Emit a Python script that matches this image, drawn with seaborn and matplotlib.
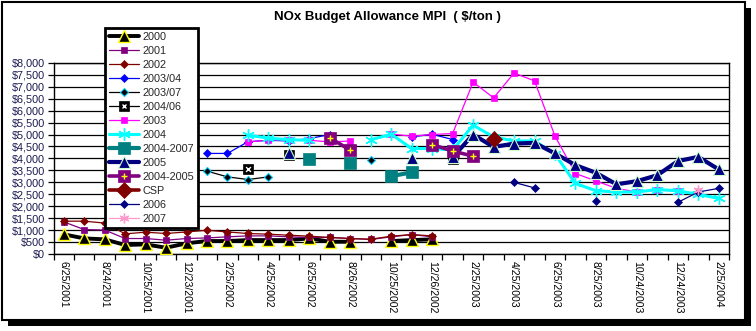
import numpy as np
import pandas as pd
import matplotlib
matplotlib.use("Agg")
import matplotlib.pyplot as plt
import seaborn as sns
from matplotlib.lines import Line2D
from matplotlib.patches import Rectangle
from matplotlib.legend_handler import HandlerTuple

N = np.nan

dates = ["6/25/2001", "7/25/2001", "8/24/2001", "9/25/2001", "10/25/2001", "11/26/2001",
         "12/23/2001", "1/25/2002", "2/25/2002", "3/25/2002", "4/25/2002", "5/24/2002",
         "6/25/2002", "7/25/2002", "8/26/2002", "9/25/2002", "10/25/2002", "11/25/2002",
         "12/26/2002", "1/24/2003", "2/25/2003", "3/25/2003", "4/25/2003", "5/23/2003",
         "6/25/2003", "7/25/2003", "8/25/2003", "9/25/2003", "10/24/2003", "11/25/2003",
         "12/24/2003", "1/23/2004", "2/25/2004"]

s2000 = [830, 660, 620, 385, 410, 270, 455, 550, 550, 590, 590, 590, 660, 520, 520, N,
         550, 590, 620] + [N] * 14
s2001 = [1350, 1030, 1010, 655, 655, 585, 655, 680, 725, 765, 765, 725, 700, 700, 655,
         615, 725, 820, 725] + [N] * 14
s2002 = [1380, 1380, 1300, 850, 920, 865, 930, 1000, 930, 865, 836, 795, 753, 700, 655,
         627, 753, 820, 765] + [N] * 14
s2003_04 = [N] * 7 + [4210, 4210, 4700, 4760, 4730, 4830, 5000, N, N, N, 4900, 5010,
                      4790] + [N] * 13
s2003_07 = [N] * 7 + [3470, 3230, 3120, 3230, N, N, N, N, 3940] + [N] * 17
s2004_06 = [N] * 9 + [3540, N, 4130] + [N] * 7 + [3970] + [N] * 13
s2003 = [N] * 9 + [4690, 4760, 4790, 4760, 4690, 4730, N, 5020, 4930, 5000, 5040, 7190,
                   6530, 7570, 7240, 4930, 3370, 3060, 2750, 2600, 2670, 2650] + [N] * 2
s2004 = [N] * 9 + [4970, 4850, 4780, 4760, N, N, 4780, 5010, 4415, 4415, 4350, 5390,
                   4900, 4730, 4730, 4180, 2955, 2650, 2600, 2600, 2700, 2650, 2500, 2330]
s2004_2007 = [N] * 12 + [3960, N, 3790, N, 3260, 3420] + [N] * 15
s2005 = [N] * 11 + [4210, N, N, N, N, N, 4030, N, 4050, 5000, 4480, 4620, 4650, 4210,
                    3720, 3400, 2920, 3050, 3300, 3890, 4065, 3540]
s2004_2005 = [N] * 13 + [4860, 4345, N, N, N, 4580, 4310, 4095] + [N] * 12
s_csp = [N] * 21 + [4830] + [N] * 11
s2006 = [N] * 22 + [3000, 2770, N, N, 2220, N, N, N, 2165, 2600, 2750]
s2007 = [N] * 31 + [2680, N]

y_ticks = list(range(0, 8001, 500))

sns.set_theme(style="white")
plt.rcParams["font.family"] = ["Liberation Sans", "DejaVu Sans"]

W, H = 756, 331
fig = plt.figure(figsize=(W / 100, H / 100), dpi=100, facecolor="white")

# chart frame with shadow
shadow = Rectangle((8 / W, 1 - 326 / H), (751 - 8) / W, (326 - 8) / H,
                   transform=fig.transFigure, facecolor="black", edgecolor="none", zorder=-2)
frame = Rectangle((2 / W, 1 - 320 / H), (745 - 2) / W, (320 - 2) / H,
                  transform=fig.transFigure, facecolor="white", edgecolor="black", lw=1.5, zorder=-1)
fig.patches.extend([shadow, frame])

x0, x1, yb, yt = 53.5, 729, 254.2, 62.7
ax = fig.add_axes([x0 / W, 1 - yb / H, (x1 - x0) / W, (yb - yt) / H])
ax.set_facecolor("white")

series = [
    ("2000", s2000, dict(color="black", lw=2.8, marker="^", ms=8, mfc="black", mec="#FFFF00", mew=1.0)),
    ("2001", s2001, dict(color="#800080", lw=0.9, marker="s", ms=4.5, mfc="#800080", mec="#800080", mew=0.5)),
    ("2002", s2002, dict(color="#800000", lw=0.9, marker="D", ms=4.0, mfc="#800000", mec="#800000", mew=0.5)),
    ("2003/04", s2003_04, dict(color="#0000FF", lw=0.9, marker="D", ms=4.0, mfc="#0000FF", mec="#0000FF", mew=0.5)),
    ("2003/07", s2003_07, dict(color="black", lw=0.9, marker="D", ms=4.0, mfc="black", mec="#00CCFF", mew=0.8)),
    ("2004/06", s2004_06, dict(color="black", lw=0.9, marker="s", ms=7, mfc="black", mec="black", mew=0.5)),
    ("2003", s2003, dict(color="#FF00FF", lw=0.9, marker="s", ms=5, mfc="#FF00FF", mec="#FF00FF", mew=0.5)),
    ("2004", s2004, dict(color="#00FFFF", lw=2.2, marker=(6, 2, 0), ms=9, mfc="#00FFFF", mec="#00FFFF", mew=1.0)),
    ("2004-2007", s2004_2007, dict(color="#008080", lw=3.0, marker="s", ms=8, mfc="#008080", mec="#008080", mew=0.5)),
    ("2005", s2005, dict(color="#000080", lw=3.0, marker="^", ms=8, mfc="#000080", mec="#CCFFCC", mew=0.8)),
    ("2004-2005", s2004_2005, dict(color="#800080", lw=2.6, marker="s", ms=8, mfc="#800080", mec="#800080", mew=0.5)),
    ("CSP", s_csp, dict(color="#800000", lw=2.6, marker="D", ms=8, mfc="#800000", mec="#800000", mew=0.5)),
    ("2006", s2006, dict(color="#000080", lw=0.9, marker="D", ms=4.5, mfc="#000080", mec="#000080", mew=0.5)),
    ("2007", s2007, dict(color="#FF99CC", lw=0.9, marker=(6, 2, 0), ms=7, mfc="#FF99CC", mec="#FF99CC", mew=1.0)),
]

overlays = {"2004/06": dict(marker="x", color="white", s=12, linewidth=1.0),
            "2004-2005": dict(marker="+", color="#FFFF00", s=20, linewidth=1.0)}

handles, labels = [], []
for i, (name, vals, st) in enumerate(series):
    y = pd.Series(vals, dtype=float)
    seg = y.isna().cumsum()
    df = pd.DataFrame({"x": np.arange(len(y)), "y": y, "seg": seg}).dropna()
    z = 3 + i
    sns.lineplot(data=df, x="x", y="y", units="seg", estimator=None, sort=False, ax=ax,
                 legend=False, zorder=z, **st)
    h = Line2D([], [], **st)
    if name in overlays:
        ov = overlays[name]
        sns.scatterplot(data=df, x="x", y="y", ax=ax, legend=False, zorder=z + 0.5,
                        marker=ov["marker"], color=ov["color"], s=ov["s"], linewidth=ov["linewidth"])
        oh = Line2D([], [], ls="none", marker=ov["marker"], color=ov["color"],
                    ms=np.sqrt(ov["s"]), mew=ov["linewidth"])
        h = (h, oh)
    handles.append(h)
    labels.append(name)

ax.set_xlim(-0.5, len(dates) - 0.5)
ax.set_ylim(0, 8000)
ax.set_xlabel("")
ax.set_ylabel("")

ax.set_yticks(y_ticks)
ax.set_yticklabels([f"${v:,}" for v in y_ticks], color="#1a1a50", fontsize=7.8)
ax.yaxis.grid(True, color="black", lw=0.9)
ax.xaxis.grid(False)
ax.set_axisbelow(True)

ax.set_xticks(np.arange(-0.5, len(dates), 1.0))
ax.set_xticklabels([])
centers = np.arange(0, len(dates), 2)
ax.set_xticks(centers, [dates[i] for i in centers], minor=True)
ax.tick_params(axis="x", which="major", direction="out", length=4, width=0.9, color="black", bottom=True)
ax.tick_params(axis="x", which="minor", length=0, pad=5, labelsize=7.6, labelcolor="black",
               labelrotation=-90, bottom=True)
ax.tick_params(axis="y", which="major", direction="out", length=4, width=0.9, color="black",
               left=True, pad=2)
for lab in ax.get_xticklabels(minor=True):
    lab.set_ha("center")
    lab.set_va("top")

for sp in ax.spines.values():
    sp.set_visible(True)
    sp.set_color("black")
    sp.set_linewidth(1.0)

fig.text(0.512, 1 - 17 / H, "NOx Budget Allowance MPI  ( $/ton )", ha="center", va="center",
         fontsize=9.5, fontweight="bold", color="black")

leg = fig.legend(handles, labels, loc="upper left", bbox_to_anchor=(105 / W, 1 - 28 / H),
                 bbox_transform=fig.transFigure, frameon=True, fancybox=False, fontsize=7.8,
                 handlelength=2.8, handletextpad=0.3, labelspacing=0.37, borderpad=0.35,
                 borderaxespad=0, handler_map={tuple: HandlerTuple(ndivide=1)})
leg.get_frame().set_edgecolor("black")
leg.get_frame().set_linewidth(2.0)
leg.get_frame().set_facecolor("white")
leg.get_frame().set_alpha(1)
leg.set_zorder(50)

fig.savefig("out.png", dpi=100, facecolor="white")
